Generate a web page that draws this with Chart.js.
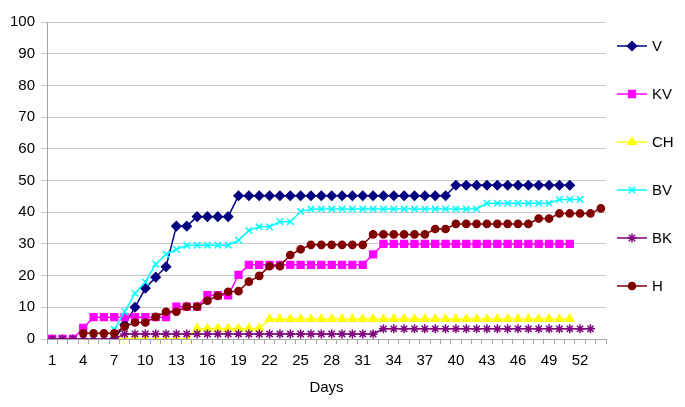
<!DOCTYPE html>
<html>
<head>
<meta charset="utf-8">
<script src="https://cdn.jsdelivr.net/npm/chart.js@4/dist/chart.umd.min.js"></script>
<style>
  html, body { margin: 0; padding: 0; background: #fff; }
  #wrap { width: 685px; height: 407px; }
</style>
</head>
<body>
<div id="wrap"><canvas id="chartDays" width="685" height="407"></canvas></div>
<script>
// categories (days) and which ones get a label on the axis
const days = [1, 2, 3, 4, 5, 6, 7, 8, 9, 10, 11, 12, 13, 14, 15, 16, 17, 18, 19, 20,
    21, 22, 23, 24, 25, 26, 27, 28, 29, 30, 31, 32, 33, 34, 35, 36, 37, 38, 39, 40,
    41, 42, 43, 44, 45, 46, 47, 48, 49, 50, 51, 52, 53, 54];
const shownDays = [1, 4, 7, 10, 13, 16, 19, 22, 25, 28, 31, 34, 37, 40, 43, 46, 49, 52];
const yTicks = [0, 10, 20, 30, 40, 50, 60, 70, 80, 90, 100];

const seriesNames = ['V', 'KV', 'CH', 'BV', 'BK', 'H'];

const valuesV = [null, null, null, null, null, null, 0, 4.5, 10, 16,
    19.5, 22.8, 35.6, 35.6, 38.6, 38.6, 38.6, 38.6, 45.2, 45.2,
    45.2, 45.2, 45.2, 45.2, 45.2, 45.2, 45.2, 45.2, 45.2, 45.2,
    45.2, 45.2, 45.2, 45.2, 45.2, 45.2, 45.2, 45.2, 45.2, 48.5,
    48.5, 48.5, 48.5, 48.5, 48.5, 48.5, 48.5, 48.5, 48.5, 48.5,
    48.5, null, null, null];

const valuesKV = [0, 0, 0, 3.5, 6.9, 6.9, 6.9, 6.9, 6.9, 6.9,
    6.9, 6.9, 10.2, 10.2, 10.2, 13.8, 13.8, 13.8, 20.2, 23.4,
    23.4, 23.4, 23.4, 23.4, 23.4, 23.4, 23.4, 23.4, 23.4, 23.4,
    23.4, 26.7, 30, 30, 30, 30, 30, 30, 30, 30,
    30, 30, 30, 30, 30, 30, 30, 30, 30, 30,
    30, null, null, null];

const valuesCH = [null, null, null, null, null, null, 0, 0, 0, 0,
    0, 0, 0, 0, 3.3, 3.3, 3.3, 3.3, 3.3, 3.3,
    3.3, 6.3, 6.3, 6.3, 6.3, 6.3, 6.3, 6.3, 6.3, 6.3,
    6.3, 6.3, 6.3, 6.3, 6.3, 6.3, 6.3, 6.3, 6.3, 6.3,
    6.3, 6.3, 6.3, 6.3, 6.3, 6.3, 6.3, 6.3, 6.3, 6.3,
    6.3, null, null, null];

const valuesBV = [null, null, null, null, null, null, 3, 8.6, 14.4, 18,
    23.6, 26.7, 28.3, 29.5, 29.6, 29.6, 29.6, 29.6, 31.2, 34.2,
    35.4, 35.4, 37, 37, 40.2, 41, 41, 41, 41, 41,
    41, 41, 41, 41, 41, 41, 41, 41, 41, 41,
    41, 41, 42.8, 42.8, 42.8, 42.8, 42.8, 42.8, 42.8, 44,
    44, 44, null, null];

const valuesBK = [0, 0, 0, 0, 0, 0, 0, 1.6, 1.6, 1.6,
    1.6, 1.6, 1.6, 1.6, 1.6, 1.6, 1.6, 1.6, 1.6, 1.6,
    1.6, 1.6, 1.6, 1.6, 1.6, 1.6, 1.6, 1.6, 1.6, 1.6,
    1.6, 1.6, 3.2, 3.2, 3.2, 3.2, 3.2, 3.2, 3.2, 3.2,
    3.2, 3.2, 3.2, 3.2, 3.2, 3.2, 3.2, 3.2, 3.2, 3.2,
    3.2, 3.2, 3.2, null];

const valuesH = [null, null, null, 1.8, 1.8, 1.8, 1.8, 3.9, 5.2, 5.2,
    7, 8.6, 8.6, 10.2, 10.2, 12.1, 13.6, 14.9, 15.1, 18.1,
    19.9, 23, 23, 26.5, 28.3, 29.7, 29.7, 29.7, 29.7, 29.7,
    29.7, 33, 33, 33, 33, 33, 33, 34.7, 34.7, 36.3,
    36.3, 36.3, 36.3, 36.3, 36.3, 36.3, 36.3, 38, 38, 39.6,
    39.6, 39.6, 39.6, 41.2];

const colors = ['#000080', '#ff00ff', '#ffff00', '#00ffff', '#800080', '#800000'];
const markers = ['rectRot', 'rect', 'triangle', 'crossRot', 'star', 'circle'];
const markerSizes = [4.5, 4.8, 4.5, 4.5, 4.5, 3.6];
const allValues = [valuesV, valuesKV, valuesCH, valuesBV, valuesBK, valuesH];

Chart.defaults.font.family = '"Liberation Sans", Arial, sans-serif';
Chart.defaults.font.size = 15;
Chart.defaults.color = '#000';

// legend drawn by hand: line + marker, spaced like the original
const sideLegend = {
    id: 'sideLegend',
    afterDraw(chart) {
        const ctx = chart.ctx;
        ctx.save();
        chart.data.datasets.forEach((ds, i) => {
            const y = 46 + i * 48;
            ctx.strokeStyle = ds.borderColor;
            ctx.lineWidth = 1.5;
            ctx.beginPath();
            ctx.moveTo(617, y);
            ctx.lineTo(647, y);
            ctx.stroke();
            ctx.fillStyle = ds.pointBackgroundColor;
            ctx.strokeStyle = ds.borderColor;
            Chart.helpers.drawPoint(ctx, {
                pointStyle: ds.pointStyle,
                radius: ds.pointRadius,
                rotation: 0,
                borderWidth: 1.5
            }, 632, y);
            ctx.fillStyle = '#000';
            ctx.font = '15px "Liberation Sans", Arial, sans-serif';
            ctx.textBaseline = 'middle';
            ctx.textAlign = 'left';
            ctx.fillText(ds.label, 652, y + 1);
        });
        ctx.restore();
    }
};

const ctx = document.getElementById('chartDays').getContext('2d');
const chart = new Chart(ctx, {
    type: 'line',
    data: {
        labels: days,
        datasets: seriesNames.map((name, i) => ({
            label: name,
            data: allValues[i],
            borderColor: colors[i],
            backgroundColor: colors[i],
            pointBackgroundColor: colors[i],
            pointBorderColor: colors[i],
            pointStyle: markers[i],
            pointRadius: markerSizes[i],
            pointBorderWidth: 1.5,
            borderWidth: 1.5,
            tension: 0,
            order: seriesNames.length - i
        }))
    },
    options: {
        responsive: false,
        animation: false,
        layout: { padding: { top: 22, right: 79, left: 0, bottom: 0 } },
        plugins: {
            legend: { display: false },
            tooltip: { enabled: false }
        },
        scales: {
            x: {
                type: 'category',
                offset: true,
                afterFit: (s) => { s.height = 68; },
                grid: {
                    drawOnChartArea: false,
                    drawTicks: true,
                    tickLength: 5,
                    offset: true,
                    color: '#a6a6a6'
                },
                border: { color: '#a6a6a6' },
                ticks: {
                    autoSkip: false,
                    maxRotation: 0,
                    padding: 8,
                    callback: (v, i) => shownDays.includes(days[i]) ? String(days[i]) : ''
                },
                title: {
                    display: true,
                    text: 'Days',
                    padding: { top: 4, bottom: 10 }
                }
            },
            y: {
                min: yTicks[0],
                max: yTicks[yTicks.length - 1],
                afterFit: (s) => { s.width = 47; },
                ticks: { stepSize: 10, padding: 6 },
                grid: { color: '#c8c8c8', tickLength: 6 },
                border: { color: '#a6a6a6' }
            }
        }
    },
    plugins: [sideLegend]
});
</script>
</body>
</html>
